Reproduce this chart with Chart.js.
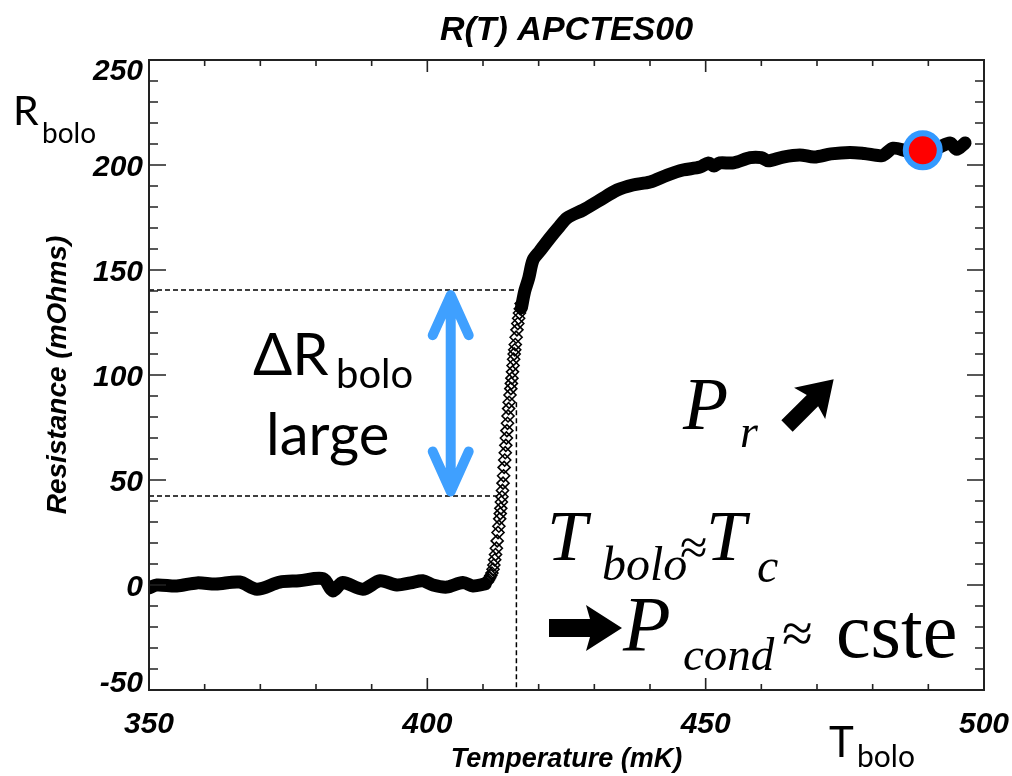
<!DOCTYPE html>
<html>
<head>
<meta charset="utf-8">
<script src="https://cdn.jsdelivr.net/npm/chart.js@4.4.1/dist/chart.umd.min.js"></script>
<style>
html, body { margin: 0; padding: 0; background: #fff; }
#wrap { width: 1012px; height: 776px; }
</style>
</head>
<body>
<div id="wrap"><canvas id="rt" width="1012" height="776"></canvas></div>
<script>
// R(T) curve (T in mK, R in mOhms)
const flatT = [350, 351.4, 355, 358.6, 362, 366.3, 369.4, 373.5, 377, 381.3, 383, 384.8, 388.4, 391.5, 394.5, 397, 399.2, 401, 403.5, 406.4, 408.2, 410.4];
const flatR = [-1.4, 0, -0.5, 1, 0.5, 1.4, -2, 1.4, 2, 3, -2.8, 1.2, -2, 2, 0, 1, 2, 0, -1, 1.2, -0.5, 0.5];

// the steep part, plotted as single diamonds
const transT = [410.8, 411.0, 411.2, 411.4, 411.6, 411.8, 411.95, 412.1, 412.25, 412.4, 412.55, 412.7, 412.85, 413.0, 413.1, 413.2, 413.3, 413.4, 413.5, 413.6, 413.7, 413.8, 413.9, 414.0, 414.1, 414.2, 414.3, 414.4, 414.5, 414.6, 414.7, 414.85, 415.0, 415.1, 415.2, 415.3, 415.4, 415.5, 415.6, 415.7, 415.8, 415.95, 416.1, 416.25, 416.4, 416.55, 416.7, 416.85];
const transR = [1.5, 2.5, 3.5, 4.5, 5.7, 7.5, 9.5, 12, 14.5, 17.5, 21, 25, 28, 31.5, 34, 36.5, 39.5, 42, 45, 48.5, 52, 56, 59.5, 63, 66.5, 70, 73.5, 77, 80.5, 84, 87, 90.5, 93.5, 96, 98.5, 101.5, 104.5, 107.5, 110, 112, 114.5, 118, 121.5, 124.5, 127, 129.5, 131.5, 134];

const riseT = [416.9, 417.5, 418.2, 419.0, 420.2, 422.0, 423.5, 425.1, 428.0, 431.0, 434.1, 436.9, 440.0, 443.1, 445.9, 449.0, 450.5, 451.5, 452.5, 455.0, 458.0, 460.0, 461.2, 463.9, 466.9, 469.5, 472.5, 475.9, 478.5, 481.7, 483.7, 486.5, 489.0, 491.5, 493.9, 495.1, 496.6];
const riseR = [132, 140, 146, 154.8, 159, 165.2, 170, 174.8, 178.6, 183.3, 188.1, 190.5, 191.9, 195.2, 197.6, 199.0, 201.0, 199.5, 201.0, 201.0, 203.5, 203.5, 202.0, 203.8, 204.8, 203.8, 205.3, 206.0, 205.5, 204.5, 208.0, 206.5, 207.0, 208.0, 210.5, 207.5, 210.5];

const markT = [489.0];
const markR = [207.0];

// dashed guide lines
const upperGuideT = [350, 416.1];
const upperGuideR = [140.5, 140.5];
const lowerGuideT = [350, 412.6];
const lowerGuideR = [42.4, 42.4];
const tcGuideT = [416.0, 416.0];
const tcGuideR = [87, -50];

// blue double arrow (delta R)
const arrowT = 404.2;
const arrowTopR = 138;
const arrowBotR = 44.5;

const xMin = 350, xMax = 500, yMin = -50, yMax = 250;
const xTickLabels = [350, 400, 450, 500];
const yTickLabels = [-50, 0, 50, 100, 150, 200, 250];

const pts = (xs, ys) => xs.map((x, i) => ({ x: x, y: ys[i] }));

const helv = '"Liberation Sans", Arial, sans-serif';
const serif = '"Liberation Serif", "Times New Roman", serif';
const humanist = 'Lato, "Open Sans", sans-serif';

function put(ctx, s, x, y, font, align) {
  ctx.font = font;
  ctx.textAlign = align || 'left';
  ctx.textBaseline = 'alphabetic';
  ctx.fillText(s, x, y);
}

// heavy black arrow starting at its tail, pointing along angle
function fatArrow(ctx, x0, y0, angle, len, shaft, headLen, headHalf) {
  ctx.save();
  ctx.translate(x0, y0);
  ctx.rotate(angle);
  ctx.beginPath();
  ctx.moveTo(0, -shaft / 2);
  ctx.lineTo(len - headLen, -shaft / 2);
  ctx.lineTo(len - headLen - 4, -headHalf);
  ctx.lineTo(len, 0);
  ctx.lineTo(len - headLen - 4, headHalf);
  ctx.lineTo(len - headLen, shaft / 2);
  ctx.lineTo(0, shaft / 2);
  ctx.closePath();
  ctx.fillStyle = '#000';
  ctx.fill();
  ctx.restore();
}

const decor = {
  id: 'decor',
  afterDraw(chart) {
    const ctx = chart.ctx;
    const a = chart.chartArea;
    const sx = chart.scales.x, sy = chart.scales.y;
    ctx.save();
    ctx.fillStyle = '#000';
    ctx.strokeStyle = '#222';
    ctx.lineWidth = 2;
    ctx.strokeRect(a.left, a.top, a.right - a.left, a.bottom - a.top);

    // inward ticks on all four sides
    ctx.lineWidth = 1.6;
    ctx.beginPath();
    for (let v = xMin; v <= xMax; v += 10) {
      const px = sx.getPixelForValue(v);
      const len = v % 50 === 0 ? 12 : 6;
      ctx.moveTo(px, a.bottom); ctx.lineTo(px, a.bottom - len);
      ctx.moveTo(px, a.top); ctx.lineTo(px, a.top + len);
    }
    for (let v = yMin; v <= yMax; v += 10) {
      const py = sy.getPixelForValue(v);
      const len = v % 50 === 0 ? 17 : 9;
      ctx.moveTo(a.left, py); ctx.lineTo(a.left + len, py);
      ctx.moveTo(a.right, py); ctx.lineTo(a.right - len, py);
    }
    ctx.stroke();

    // tick labels
    const tickFont = 'italic bold 30px ' + helv;
    yTickLabels.forEach(v => {
      let py = sy.getPixelForValue(v);
      py = Math.min(Math.max(py, a.top + 9), a.bottom - 9);
      put(ctx, String(v), a.left - 6, py + 11, tickFont, 'right');
    });
    xTickLabels.forEach(v => {
      put(ctx, String(v), sx.getPixelForValue(v), a.bottom + 43, tickFont, 'center');
    });

    // title and axis titles
    put(ctx, 'R(T) APCTES00', (a.left + a.right) / 2, 40, 'italic bold 34px ' + helv, 'center');
    put(ctx, 'Temperature (mK)', (a.left + a.right) / 2, 767, 'italic bold 27px ' + helv, 'center');
    ctx.save();
    ctx.translate(66, (a.top + a.bottom) / 2);
    ctx.rotate(-Math.PI / 2);
    put(ctx, 'Resistance (mOhms)', 0, 0, 'italic bold 28px ' + helv, 'center');
    ctx.restore();

    // annotations
    put(ctx, 'R', 13, 125, '41px ' + humanist);
    put(ctx, 'bolo', 42, 143, '28px ' + humanist);
    put(ctx, 'ΔR', 253, 375, '58px ' + humanist);
    put(ctx, 'bolo', 336, 388, '40px ' + humanist);
    put(ctx, 'large', 266, 455, '58px ' + humanist);
    put(ctx, 'T', 829, 757, '42px ' + humanist);
    put(ctx, 'bolo', 857, 767, '30px ' + humanist);

    put(ctx, 'P', 683, 429, 'italic 74px ' + serif);
    put(ctx, 'r', 740, 447, 'italic 46px ' + serif);
    fatArrow(ctx, 787, 426, -Math.PI / 4, 66, 16, 30, 22);

    put(ctx, 'T', 547, 560, 'italic 72px ' + serif);
    put(ctx, 'bolo', 602, 580, 'italic 48px ' + serif);
    put(ctx, '≈', 680, 564, '50px ' + serif);
    put(ctx, 'T', 706, 560, 'italic 72px ' + serif);
    put(ctx, 'c', 757, 582, 'italic 48px ' + serif);

    fatArrow(ctx, 549, 628, 0, 73, 18, 32, 23);
    put(ctx, 'P', 623, 650, 'italic 78px ' + serif);
    put(ctx, 'cond', 683, 670, 'italic 47px ' + serif);
    put(ctx, '≈', 782, 652, '56px ' + serif);
    put(ctx, 'cste', 836, 657, '78px ' + serif);

    // blue double arrow
    const ax = sx.getPixelForValue(arrowT);
    const at = sy.getPixelForValue(arrowTopR);
    const ab = sy.getPixelForValue(arrowBotR);
    ctx.strokeStyle = '#3fa0ff';
    ctx.lineWidth = 10;
    ctx.lineCap = 'round';
    ctx.lineJoin = 'round';
    ctx.beginPath();
    ctx.moveTo(ax, at); ctx.lineTo(ax, ab);
    ctx.moveTo(ax - 18, at + 40); ctx.lineTo(ax, at); ctx.lineTo(ax + 18, at + 40);
    ctx.moveTo(ax - 18, ab - 40); ctx.lineTo(ax, ab); ctx.lineTo(ax + 18, ab - 40);
    ctx.stroke();
    ctx.restore();
  }
};

const dashed = {
  showLine: true,
  borderColor: '#000',
  borderWidth: 1.5,
  borderDash: [5, 3],
  pointRadius: 0,
  order: 5
};

const thick = {
  showLine: true,
  borderColor: '#000',
  borderWidth: 13,
  tension: 0.3,
  pointRadius: 0,
  borderCapStyle: 'round',
  borderJoinStyle: 'round',
  order: 2
};

new Chart(document.getElementById('rt'), {
  type: 'scatter',
  data: {
    datasets: [
      Object.assign({ data: pts(upperGuideT, upperGuideR) }, dashed),
      Object.assign({ data: pts(lowerGuideT, lowerGuideR) }, dashed),
      Object.assign({ data: pts(tcGuideT, tcGuideR) }, dashed),
      Object.assign({ data: pts(flatT, flatR) }, thick),
      {
        data: pts(transT, transR),
        showLine: false,
        pointStyle: 'rectRot',
        pointRadius: 6,
        pointBorderWidth: 1.6,
        pointBorderColor: '#000',
        pointBackgroundColor: 'rgba(255,255,255,0)',
        order: 3
      },
      Object.assign({ data: pts(riseT, riseR) }, thick),
      {
        data: pts(markT, markR),
        showLine: false,
        pointRadius: 17,
        pointBorderWidth: 6,
        pointBackgroundColor: '#ff0000',
        pointBorderColor: '#3399ff',
        order: 0
      }
    ]
  },
  options: {
    responsive: false,
    animation: false,
    devicePixelRatio: 1,
    layout: { padding: { top: 60, right: 28, left: 0, bottom: 0 } },
    plugins: { legend: { display: false }, tooltip: { enabled: false }, title: { display: false } },
    scales: {
      x: {
        type: 'linear', min: xMin, max: xMax,
        ticks: { display: false, stepSize: 50 },
        grid: { display: false },
        border: { display: false },
        afterFit: s => { s.height = 86; }
      },
      y: {
        type: 'linear', min: yMin, max: yMax,
        ticks: { display: false, stepSize: 50 },
        grid: { display: false },
        border: { display: false },
        afterFit: s => { s.width = 149; }
      }
    }
  },
  plugins: [decor]
});
</script>
</body>
</html>
